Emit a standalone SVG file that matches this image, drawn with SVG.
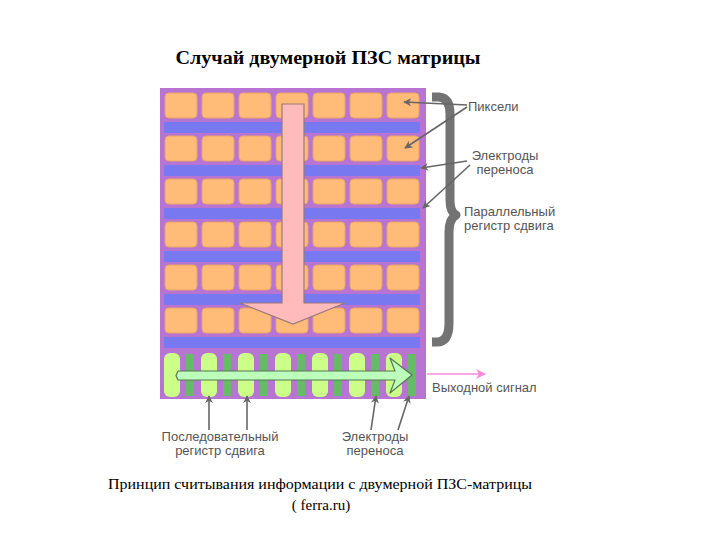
<svg xmlns="http://www.w3.org/2000/svg" width="720" height="540" viewBox="0 0 720 540">
<defs>
<style>
.px{fill:#ffbb77;stroke:#e9a468;stroke-width:1}
.el{fill:#7878f0}
.pill{fill:#ccff88}
.dk{fill:#66bb66}
.lbl{font-family:"Liberation Sans",Arial,sans-serif;font-size:13px;fill:#555}
.ptr{stroke:#666;stroke-width:1.6;fill:none;marker-end:url(#ah)}
</style>
<marker id="ah" viewBox="0 0 10 10" refX="9" refY="5" markerWidth="8" markerHeight="8" orient="auto" markerUnits="userSpaceOnUse">
<path d="M0,0 L10,5 L0,10 L3,5 Z" fill="#666"/>
</marker>
<marker id="ahp" viewBox="0 0 10 10" refX="9" refY="5" markerWidth="14" markerHeight="10" orient="auto" markerUnits="userSpaceOnUse">
<path d="M0,0 L10,5 L0,10 L3,5 Z" fill="#ff88dd"/>
</marker>
<g id="prow">
<rect class="px" x="165" y="0" width="32" height="25" rx="4"/>
<rect class="px" x="202" y="0" width="32" height="25" rx="4"/>
<rect class="px" x="239" y="0" width="32" height="25" rx="4"/>
<rect class="px" x="276" y="0" width="32" height="25" rx="4"/>
<rect class="px" x="313" y="0" width="32" height="25" rx="4"/>
<rect class="px" x="350" y="0" width="32" height="25" rx="4"/>
<rect class="px" x="387" y="0" width="32" height="25" rx="4"/>
<rect class="el" x="164" y="29" width="256" height="11"/>
</g>
</defs>
<rect width="720" height="540" fill="#fff"/>
<text x="328" y="64" text-anchor="middle" font-family="'Liberation Serif','Times New Roman',serif" font-weight="bold" font-size="18" textLength="305" lengthAdjust="spacingAndGlyphs" fill="#000">Случай двумерной ПЗС матрицы</text>

<g id="chip">
<rect x="160" y="88" width="266" height="311" fill="#b874d2"/>
<use href="#prow" y="93"/>
<use href="#prow" y="136"/>
<use href="#prow" y="179"/>
<use href="#prow" y="222"/>
<use href="#prow" y="265"/>
<use href="#prow" y="308"/>
</g>

<g id="serial-register">
<rect class="pill" x="164" y="353" width="16" height="44" rx="6"/>
<rect class="pill" x="201" y="353" width="16" height="44" rx="6"/>
<rect class="pill" x="238" y="353" width="16" height="44" rx="6"/>
<rect class="pill" x="275" y="353" width="16" height="44" rx="6"/>
<rect class="pill" x="312" y="353" width="16" height="44" rx="6"/>
<rect class="pill" x="349" y="353" width="16" height="44" rx="6"/>
<rect class="pill" x="386" y="353" width="16" height="44" rx="6"/>
<rect class="dk" x="186" y="354" width="8" height="42"/>
<rect class="dk" x="223" y="354" width="8" height="42"/>
<rect class="dk" x="260" y="354" width="8" height="42"/>
<rect class="dk" x="297" y="354" width="8" height="42"/>
<rect class="dk" x="334" y="354" width="8" height="42"/>
<rect class="dk" x="371" y="354" width="8" height="42"/>
<rect class="dk" x="408" y="354" width="8" height="42"/>
</g>

<g id="transfer-arrow">
<polygon points="282,104 304,104 304,303 345,303 293,324 240,303 282,303" fill="#ffbbbb" stroke="#9a7a78" stroke-width="1.2"/>
</g>

<g id="readout-arrow">
<polygon points="178,371 395,371 390,358 412,375 390,393 395,380 178,380 176,375.5" fill="#bbffbb" stroke="#557755" stroke-width="1.2" stroke-linejoin="round"/>
</g>

<g id="brace">
<path d="M432,97 L439,97 Q450,98 450,114 L450,200 Q450,212 456,215 Q449,219 449,232 L449,323 Q449,342 437,342 L432,342" fill="none" stroke="#737373" stroke-width="9" stroke-linejoin="round"/>
</g>

<g id="connectors">
<line class="ptr" x1="467" y1="105" x2="404" y2="102"/>
<line class="ptr" x1="467" y1="107" x2="405" y2="148"/>
<line class="ptr" x1="467" y1="161" x2="421" y2="168"/>
<line class="ptr" x1="470" y1="165" x2="423" y2="208"/>
<line x1="427" y1="374" x2="485" y2="374" stroke="#ff88dd" stroke-width="1.3" marker-end="url(#ahp)"/>
<line class="ptr" x1="209" y1="430" x2="209" y2="396"/>
<line class="ptr" x1="247" y1="430" x2="247" y2="396"/>
<line class="ptr" x1="371" y1="430" x2="376" y2="396"/>
<line class="ptr" x1="398" y1="430" x2="409" y2="396"/>
</g>

<g id="labels">
<text class="lbl" x="468" y="111">Пиксели</text>
<text class="lbl" x="505" y="160" text-anchor="middle">Электроды</text>
<text class="lbl" x="505" y="174" text-anchor="middle">переноса</text>
<text class="lbl" x="464" y="216">Параллельный</text>
<text class="lbl" x="464" y="230">регистр сдвига</text>
<text class="lbl" x="432" y="392">Выходной сигнал</text>
<text class="lbl" x="220" y="441" text-anchor="middle">Последовательный</text>
<text class="lbl" x="220" y="455" text-anchor="middle">регистр сдвига</text>
<text class="lbl" x="375" y="441" text-anchor="middle">Электроды</text>
<text class="lbl" x="375" y="455" text-anchor="middle">переноса</text>
</g>

<g id="caption" font-family="'Liberation Serif','Times New Roman',serif" font-size="15" fill="#000">
<text x="108" y="489" textLength="424" lengthAdjust="spacingAndGlyphs">Принцип считывания информации с двумерной ПЗС-матрицы</text>
<text x="321" y="510" text-anchor="middle">( ferra.ru)</text>
</g>
</svg>
